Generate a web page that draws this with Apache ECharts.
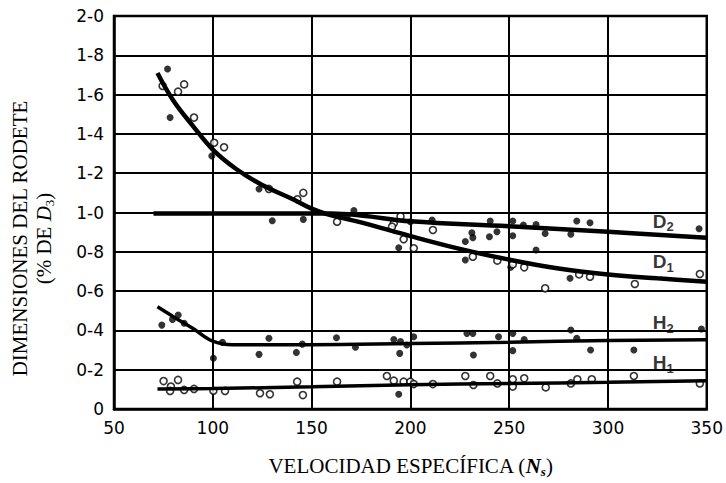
<!DOCTYPE html>
<html>
<head>
<meta charset="utf-8">
<script src="https://cdn.jsdelivr.net/npm/echarts@6/dist/echarts.min.js"></script>
<style>
  html, body { margin: 0; padding: 0; background: #fff; }
  #chart { width: 726px; height: 483px; }
</style>
</head>
<body>
<div id="chart"></div>
<script>
// curvas trazadas (Ns, % de D3)
var d1Curve = [[72, 1.71], [80, 1.57], [90, 1.44], [100, 1.32], [112, 1.22], [125, 1.14], [140, 1.07], [150, 1.02], [160, 0.985], [175, 0.95], [200, 0.88], [225, 0.815], [250, 0.76], [275, 0.715], [300, 0.685], [325, 0.665], [350, 0.648]];
var d2Curve = [[70, 0.995], [160, 0.995], [175, 0.985], [200, 0.955], [250, 0.93], [300, 0.902], [350, 0.872]];
var h2Curve = [[72, 0.52], [80, 0.47], [90, 0.41], [100, 0.345], [110, 0.327], [150, 0.327], [200, 0.333], [250, 0.34], [300, 0.348], [350, 0.352]];
var h1Curve = [[72, 0.102], [100, 0.104], [150, 0.113], [200, 0.124], [250, 0.13], [300, 0.136], [350, 0.144]];

// puntos medidos
var filledPts = [
  [77.1, 1.73], [78.4, 1.483], [99.5, 1.288], [123.4, 1.12], [130.1, 0.958], [145.8, 0.965], [171.4, 1.01], [168, 0.98],
  [200, 0.953], [211, 0.962], [194.1, 0.821], [227.8, 0.852], [231.1, 0.897], [231.6, 0.872], [240, 0.877], [240.4, 0.957],
  [243.8, 0.902], [251.8, 0.957], [251.8, 0.882], [257.2, 0.936], [263.6, 0.939], [268.2, 0.893], [263.6, 0.809],
  [281.2, 0.889], [284.2, 0.957], [290.9, 0.948], [346.1, 0.917], [250.8, 0.721], [280.8, 0.665], [227.8, 0.758],
  [74.2, 0.427], [79.6, 0.456], [82.5, 0.478], [85.5, 0.436], [100.3, 0.258], [104.9, 0.339], [123.4, 0.278], [128.4, 0.36],
  [142.3, 0.288], [145.3, 0.33], [162.6, 0.363], [172.2, 0.314], [191.6, 0.354], [195, 0.343], [198.2, 0.326], [194.6, 0.283],
  [201.7, 0.368], [228.6, 0.385], [231.6, 0.385], [231.9, 0.275], [244.6, 0.368], [251.8, 0.385], [251.8, 0.297],
  [257.6, 0.354], [281.2, 0.402], [284.2, 0.36], [291.2, 0.3], [313.1, 0.3], [347.3, 0.407], [194.1, 0.075]
];
var openPts = [
  [74.6, 1.644], [82.4, 1.615], [85.5, 1.652], [90.5, 1.483], [100.7, 1.355], [105.7, 1.332], [128.4, 1.12], [145.8, 1.1],
  [142.8, 1.067], [162.9, 0.953], [191.6, 0.945], [195, 0.98], [190.7, 0.928], [211.4, 0.911], [196.6, 0.864], [201.7, 0.818],
  [231.6, 0.775], [244, 0.755], [251.8, 0.736], [257.6, 0.721], [285.4, 0.685], [290.9, 0.673], [268.2, 0.614], [313.6, 0.636], [346.5, 0.687],
  [75.1, 0.142], [78.8, 0.114], [78.4, 0.092], [82.4, 0.148], [85.5, 0.097], [90.5, 0.102], [100.3, 0.093], [106.2, 0.092],
  [123.9, 0.08], [128.9, 0.075], [142.7, 0.139], [145.6, 0.071], [162.9, 0.139], [188.1, 0.168], [191.6, 0.144], [196.6, 0.139],
  [200, 0.139], [201.7, 0.127], [211.4, 0.127], [227.8, 0.168], [231.9, 0.122], [240.4, 0.168], [244, 0.13], [251.8, 0.151],
  [251.8, 0.114], [257.6, 0.156], [268.5, 0.11], [281.2, 0.13], [284.5, 0.151], [291.8, 0.151], [313.1, 0.168], [346.5, 0.13]
];

// rótulos de las curvas
var curveNames = ['D', 'D', 'H', 'H'];
var curveSubs = ['2', '1', '2', '1'];
var curveLabelX = [328, 328, 328, 328];
var curveLabelY = [0.955, 0.75, 0.44, 0.235];

var xTicks = [50, 100, 150, 200, 250, 300, 350];

var chart = echarts.init(document.getElementById('chart'), null, { renderer: 'svg' });

var labelData = [];
for (var i = 0; i < curveNames.length; i++) {
    labelData.push({ value: [curveLabelX[i], curveLabelY[i]], name: curveNames[i], sub: curveSubs[i] });
}

function lineSeries(data, w) {
    return {
        type: 'line',
        data: data,
        smooth: 0.4,
        showSymbol: false,
        symbol: 'none',
        silent: true,
        z: 3,
        lineStyle: { color: '#000', width: w }
    };
}

var serif = 'Liberation Serif';

var option = {
    animation: false,
    grid: {
        left: 113, right: 18, top: 16, bottom: 74,
        show: true, borderColor: '#000', borderWidth: 2.5
    },
    xAxis: {
        type: 'value',
        min: 50, max: 350, interval: 50,
        axisLine: { show: true, lineStyle: { color: '#000', width: 2.5 } },
        axisTick: { show: false },
        splitLine: { show: true, lineStyle: { color: '#000', width: 2 } },
        axisLabel: {
            margin: 10, color: '#000', fontFamily: 'DejaVu Sans', fontSize: 17,
            formatter: function (v) { return xTicks.indexOf(v) >= 0 ? String(v) : ''; }
        },
        name: 'VELOCIDAD ESPECÍFICA ({n|N}{s|s})',
        nameLocation: 'middle',
        nameGap: 45,
        nameTextStyle: {
            fontFamily: serif, fontSize: 21, color: '#000', lineHeight: 24,
            rich: {
                n: { fontFamily: serif, fontSize: 21, color: '#000', fontStyle: 'italic', fontWeight: 'bold', lineHeight: 24 },
                s: { fontFamily: serif, fontSize: 13, color: '#000', fontStyle: 'italic', fontWeight: 'bold', lineHeight: 16, verticalAlign: 'bottom' }
            }
        }
    },
    yAxis: {
        type: 'value',
        min: 0, max: 2, interval: 0.2,
        axisLine: { show: true, lineStyle: { color: '#000', width: 2.5 } },
        axisTick: { show: false },
        splitLine: { show: true, lineStyle: { color: '#000', width: 2 } },
        axisLabel: {
            margin: 10, color: '#000', fontFamily: 'DejaVu Sans', fontSize: 17,
            formatter: function (v) {
                if (v === 0) return '0';
                return v.toFixed(1).replace('.', '-');
            }
        },
        name: 'DIMENSIONES DEL RODETE\n(% DE {i|D}{s|3})',
        nameLocation: 'middle',
        nameRotate: 90,
        nameGap: 58,
        nameTextStyle: {
            fontFamily: serif, fontSize: 21, color: '#000', lineHeight: 24, align: 'center',
            padding: [0, 52, 0, 0],
            rich: {
                i: { fontFamily: serif, fontSize: 21, color: '#000', fontStyle: 'italic', lineHeight: 24 },
                s: { fontFamily: serif, fontSize: 13, color: '#000', lineHeight: 16, verticalAlign: 'bottom' }
            }
        }
    },
    series: [
        {
            type: 'scatter', data: filledPts, symbol: 'circle', symbolSize: 7, z: 2,
            itemStyle: { color: '#000' }
        },
        {
            type: 'scatter', data: openPts, symbol: 'circle', symbolSize: 7, z: 2,
            itemStyle: { color: '#fff', borderColor: '#000', borderWidth: 1.6 }
        },
        lineSeries(d1Curve, 4.5),
        lineSeries(d2Curve, 4.5),
        lineSeries(h2Curve, 3.5),
        lineSeries(h1Curve, 3.5),
        {
            type: 'scatter', data: labelData, symbolSize: 0, z: 5, silent: true,
            label: {
                show: true, position: 'inside',
                formatter: function (p) { return '{b|' + p.data.name + '}{s|' + p.data.sub + '}'; },
                rich: {
                    b: { fontFamily: 'Liberation Sans', fontWeight: 'bold', fontSize: 19, color: '#000', lineHeight: 24 },
                    s: { fontFamily: 'Liberation Sans', fontWeight: 'bold', fontSize: 13, color: '#000', lineHeight: 11, verticalAlign: 'bottom' }
                }
            }
        }
    ]
};

chart.setOption(option);
</script>
</body>
</html>
